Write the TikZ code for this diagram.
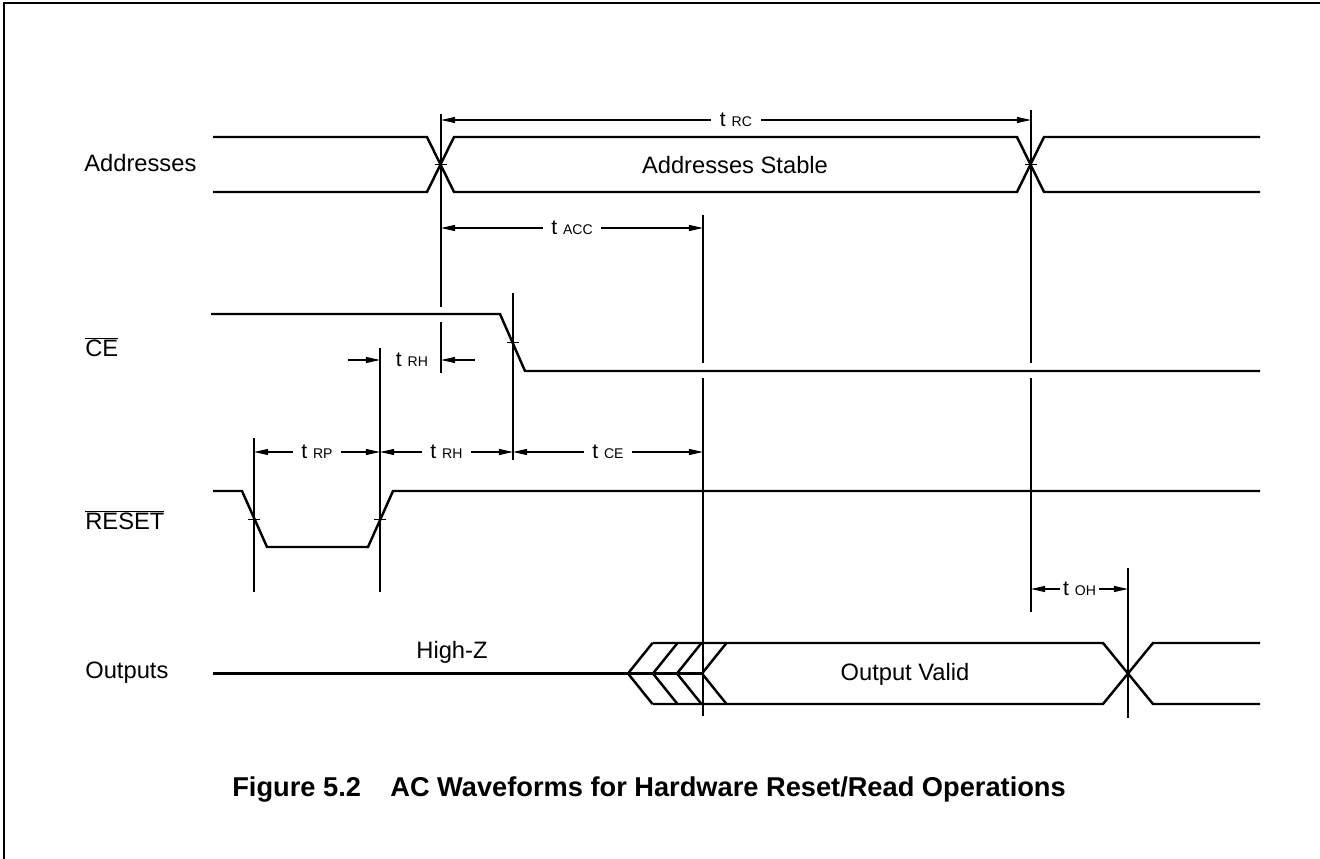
\documentclass[tikz,border=0pt]{standalone}
\usepackage{fontspec}
\setmainfont{Liberation Sans}
\usetikzlibrary{arrows.meta}
\def\tm#1{{\fontsize{12}{14}\selectfont t {\fontsize{8}{9}\selectfont #1}}}
\def\ovl#1{$\overline{\mbox{#1}}$}
\tikzset{
  sig/.style={line width=1.4pt},
  vline/.style={line width=0.6pt},
  tickmark/.style={line width=0.5pt},
  dimarrow/.style={line width=0.6pt, {Triangle[length=8pt,width=3.4pt]}-{Triangle[length=8pt,width=3.4pt]}},
  onearrow/.style={line width=0.6pt, -{Triangle[length=8pt,width=3.4pt]}},
  tlabel/.style={fill=white, inner xsep=5pt, inner ysep=1pt},
  signame/.style={anchor=west, inner sep=0pt, font=\fontsize{13.5}{16}\selectfont},
  buslabel/.style={inner sep=0pt, font=\fontsize{13.5}{16}\selectfont},
  figtext/.style={anchor=base west, inner sep=0pt, font=\bfseries\fontsize{15.5}{18}\selectfont}
}

\begin{document}
\begin{tikzpicture}[x=0.02cm, y=-0.02cm]
\useasboundingbox (0,0) rectangle (1320,859);
\draw [line width=1.1pt] (4,859)--(4,3)--(1320,3);

\node [signame] (addr) at (84,163) {Addresses};
\node [signame] (ce) at (85,347) {\ovl{CE}};
\node [signame] (reset) at (85,520) {\ovl{RESET}};
\node [signame] (outs) at (85,673) {Outputs};

\draw [sig] (213,137)--(427,137)--(454,192)--(1017,192)--(1044,137)--(1260,137);
\draw [sig] (213,192)--(427,192)--(454,137)--(1017,137)--(1044,192)--(1260,192);
\node [buslabel] (stable) at (735,165) {Addresses Stable};

\draw [sig] (211,314)--(500,314)--(525,371)--(1260,371);

\draw [sig] (213,491)--(242,491)--(267,547)--(368,547)--(393,491)--(1260,491);

\draw [sig] (213,673.5)--(702,673.5);
\foreach \x in {628,653,677,702}
  \draw [sig] (\x+24.5,643)--(\x,673.5)--(\x+24.5,704);
\draw [sig] (652.5,643)--(1103,643)--(1153,704)--(1260,704);
\draw [sig] (652.5,704)--(1103,704)--(1153,643)--(1260,643);
\node [buslabel] (hiz) at (452,652) {High-Z};
\node [buslabel] (valid) at (905,674) {Output Valid};

\draw [vline] (441,114)--(441,307) (441,322)--(441,373);
\draw [vline] (703,215)--(703,363) (703,378)--(703,716);
\draw [vline] (1031,110)--(1031,363) (1031,378)--(1031,612);
\draw [vline] (513,293)--(513,460);
\draw [vline] (380,348)--(380,592);
\draw [vline] (254,438)--(254,592);
\draw [vline] (1128,568)--(1128,718);

\draw [tickmark] (435,164.5)--(447,164.5) (1025,164.5)--(1037,164.5);
\draw [tickmark] (507,342.5)--(519,342.5);
\draw [tickmark] (248,519)--(260,519) (374,519)--(386,519);

\draw [dimarrow] (441,120) -- node [tlabel] (trc) {\tm{RC}} (1031,120);
\draw [dimarrow] (441,228) -- node [tlabel] (tacc) {\tm{ACC}} (703,228);

\draw [onearrow] (348,360) -- (380,360);
\draw [onearrow] (475,360) -- (441,360);
\node [inner sep=0pt] (trh1) at (412,360) {\tm{RH}};

\draw [dimarrow] (254,452) -- node [tlabel] (trp) {\tm{RP}} (380,452);
\draw [dimarrow] (380,452) -- node [tlabel] (trh2) {\tm{RH}} (513,452);
\draw [dimarrow] (513,452) -- node [tlabel] (tce) {\tm{CE}} (703,452);

\draw [dimarrow] (1031,589) -- node [tlabel, inner xsep=2pt] (toh) {\tm{OH}} (1128,589);

\node [figtext] (fig) at (232,796) {Figure 5.2};
\node [figtext] (caption) at (390,796) {AC Waveforms for Hardware Reset/Read Operations};
\end{tikzpicture}
\end{document}
